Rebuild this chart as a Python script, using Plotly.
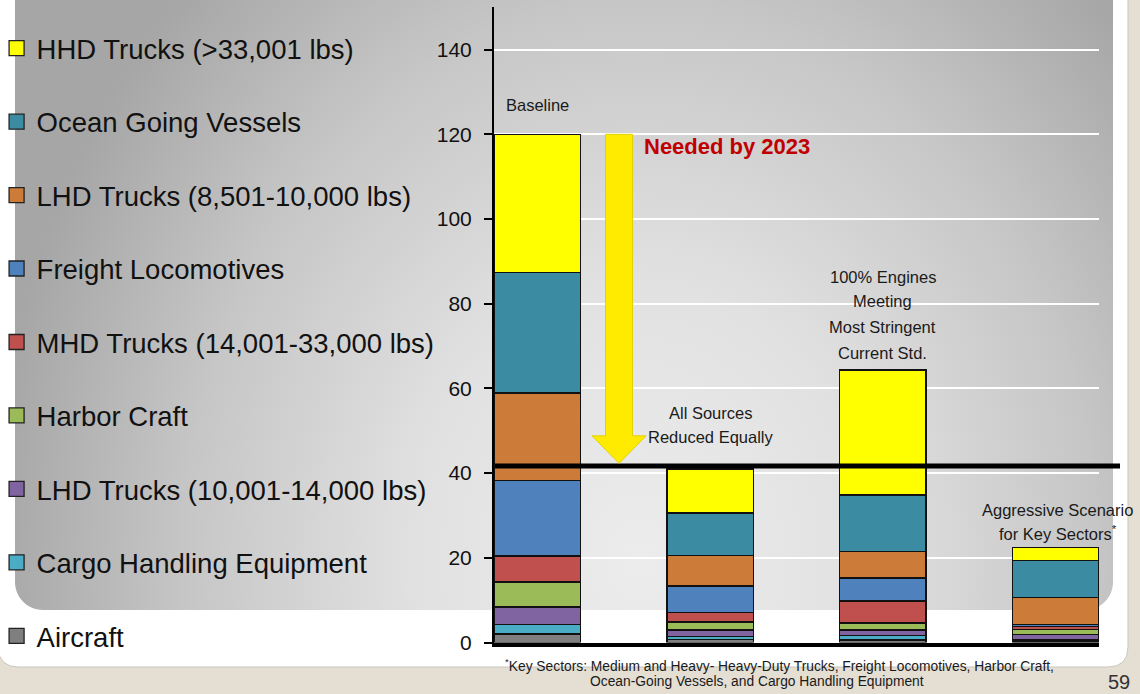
import math
import plotly.graph_objects as go

W, H = 1140, 694

# Scenario categories (bars, left to right)
scenarios = [
    "Baseline",
    "All Sources Reduced Equally",
    "100% Engines Meeting Most Stringent Current Std.",
    "Aggressive Scenario for Key Sectors",
]

# Emission sources, stacked bottom to top
aircraft = [2.0, 0.7, 0.6, 0.35]
cargo_handling = [2.2, 0.75, 1.1, 0.4]
lhd_10001_14000 = [4.2, 1.45, 1.25, 1.15]
harbor_craft = [5.9, 2.0, 1.6, 1.2]
mhd_trucks = [6.1, 2.2, 5.2, 0.7]
freight_locos = [17.8, 6.2, 5.45, 0.5]
lhd_8501_10000 = [20.7, 7.3, 6.25, 6.3]
ocean_vessels = [28.5, 10.0, 13.35, 8.8]
hhd_trucks = [32.6, 10.4, 29.5, 3.0]

source_names = [
    "Aircraft",
    "Cargo Handling Equipment",
    "LHD Trucks (10,001-14,000 lbs)",
    "Harbor Craft",
    "MHD Trucks (14,001-33,000 lbs)",
    "Freight Locomotives",
    "LHD Trucks (8,501-10,000 lbs)",
    "Ocean Going Vessels",
    "HHD Trucks (>33,001 lbs)",
]
source_values = [
    aircraft, cargo_handling, lhd_10001_14000, harbor_craft, mhd_trucks,
    freight_locos, lhd_8501_10000, ocean_vessels, hhd_trucks,
]
source_colors = [
    "#7F7F7F", "#4BACC6", "#8064A2", "#9BBB59", "#C0504D",
    "#4F81BD", "#CD7B39", "#3B8CA3", "#FFFF00",
]

# Scenario captions above the bars, one entry per text line
scenario_captions = [
    ["Baseline"],
    ["All Sources", "Reduced Equally"],
    ["100% Engines", "Meeting", "Most Stringent", "Current Std."],
    ["Aggressive Scenario", "for Key Sectors<sup>*</sup>"],
]
# y of each caption line (axis units)
caption_levels = [
    [126.9],
    [54.2, 48.5],
    [86.3, 80.6, 74.5, 68.4],
    [31.3, 25.9],
]

# Attainment target level
target_level = 41.7

y_ticks = [0, 20, 40, 60, 80, 100, 120, 140]

FONT = "Liberation Sans, Arial, sans-serif"
TEXT = "#1a1a1a"

# Pixel geometry of the page furniture
plot_left, plot_right = 494, 1099
plot_top, plot_bottom = 7.3, 642.5


def px(x):
    return x / W


def py(y):
    return 1 - y / H


def rounded_bottom_panel(x0, y0, x1, y1, r, n=14):
    pts = [(x0, y0), (x0, y1 - r)]
    for i in range(1, n + 1):
        a = math.pi - (math.pi / 2) * i / n
        pts.append((x0 + r + r * math.cos(a), y1 - r + r * math.sin(a)))
    pts.append((x1 - r, y1))
    for i in range(1, n + 1):
        a = math.pi / 2 - (math.pi / 2) * i / n
        pts.append((x1 - r + r * math.cos(a), y1 - r + r * math.sin(a)))
    pts.append((x1, y0))
    return pts


fig = go.Figure()

# Grey gradient panel (background subplot in pixel coordinates).
# Zero-width spurs stretch the bounding box so the radial gradient
# is centred near the bottom middle of the panel.
gx0, gy0, gx1, gy1, gr = 15, -40, 1113, 610, 28
cx, cy, rx, ry = 640, 560, 650, 800
panel = rounded_bottom_panel(gx0, gy0, gx1, gy1, gr)
pts = []
for i, p in enumerate(panel):
    pts.append(p)
    if i == 0:
        pts += [(cx, gy0), (cx, cy - ry), (cx, gy0), (gx0, gy0),
                (gx0, cy), (cx - rx, cy), (gx0, cy)]
    if abs(p[1] - gy1) < 1e-6 and abs(p[0] - (gx0 + gr)) < 1e-6:
        pts += [(cx, gy1), (cx, cy + ry), (cx, gy1)]
pts += [(gx1, cy), (cx + rx, cy), (gx1, cy), (gx1, gy0)]

fig.add_trace(go.Scatter(
    x=[p[0] for p in pts], y=[p[1] for p in pts],
    mode="none", fill="toself",
    fillgradient=dict(
        type="radial",
        colorscale=[[0, "#ececec"], [0.35, "#e1e1e1"], [0.7, "#c6c6c6"], [1, "#a6a6a6"]],
    ),
    hoverinfo="skip", showlegend=False, xaxis="x", yaxis="y",
))

# Stacked emission bars; each legend entry is a larger square key in
# the same legend group, listed with the top of the stack first
n_src = len(source_names)
for i, (name, vals, col) in enumerate(zip(source_names, source_values, source_colors)):
    fig.add_trace(go.Bar(
        x=scenarios, y=vals, name=name, legendgroup=name, showlegend=False,
        marker=dict(color=col, line=dict(color="#111111", width=1.5)),
        xaxis="x2", yaxis="y2",
    ))
    fig.add_trace(go.Scatter(
        x=[None], y=[None], name=name, legendgroup=name, legendrank=n_src - i,
        mode="markers",
        marker=dict(symbol="square", size=15, color=col,
                    line=dict(color="#222222", width=1.3)),
        xaxis="x2", yaxis="y2", hoverinfo="skip",
    ))

baseline_total = sum(v[0] for v in source_values)

shapes = [
    # white slide panel on the page background
    dict(type="path", xref="paper", yref="paper", layer="below",
         path=(f"M {px(-30)},{py(-30)} L {px(1108)},{py(-30)} "
               f"Q {px(1128)},{py(-30)} {px(1128)},{py(-10)} "
               f"L {px(1128)},{py(647)} Q {px(1128)},{py(667)} {px(1108)},{py(667)} "
               f"L {px(18)},{py(667)} Q {px(0)},{py(667)} {px(-2)},{py(649)} "
               f"L {px(-30)},{py(649)} Z"),
         fillcolor="#FFFFFF", line=dict(color="#C9C5BE", width=1)),
    # target level line
    dict(type="line", xref="paper", yref="y2", x0=px(495), x1=px(1120),
         y0=target_level, y1=target_level, line=dict(color="#000000", width=5),
         layer="above"),
]

# Downward arrow from the baseline total to the target level
ax_c = px(619)
sh, hh = 13.5 / W, 27 / W
head_start = target_level + 7.1
tip = target_level + 0.6
shapes.append(dict(
    type="path", xref="paper", yref="y2", layer="above",
    path=(f"M {ax_c - sh},{baseline_total} L {ax_c + sh},{baseline_total} "
          f"L {ax_c + sh},{head_start} L {ax_c + hh},{head_start} "
          f"L {ax_c},{tip} L {ax_c - hh},{head_start} L {ax_c - sh},{head_start} Z"),
    fillcolor="#FFEB00", line=dict(color="#E3D000", width=1),
))

annotations = []
for scen, lines, levels in zip(scenarios, scenario_captions, caption_levels):
    shift = 2 if scen == scenarios[3] else 0
    for line, lev in zip(lines, levels):
        annotations.append(dict(
            x=scen, y=lev, text=line, xref="x2", yref="y2", xshift=shift,
            showarrow=False, yanchor="middle", xanchor="center",
            font=dict(family=FONT, size=16.5, color=TEXT),
        ))

annotations += [
    dict(xref="paper", yref="paper", x=px(642), y=py(146), xanchor="left", yanchor="middle",
         text="<b>Needed by 2023</b>", showarrow=False,
         font=dict(family=FONT, size=22, color="#C00000")),
    dict(xref="paper", yref="paper", x=px(779), y=py(665), xanchor="center", yanchor="middle",
         text="<sup>*</sup>Key Sectors: Medium and Heavy- Heavy-Duty Trucks, Freight Locomotives, Harbor Craft,",
         showarrow=False, font=dict(family=FONT, size=13.8, color=TEXT)),
    dict(xref="paper", yref="paper", x=px(757), y=py(681), xanchor="center", yanchor="middle",
         text="Ocean-Going Vessels, and Cargo Handling Equipment",
         showarrow=False, font=dict(family=FONT, size=13.8, color=TEXT)),
    dict(xref="paper", yref="paper", x=px(1119), y=py(682), xanchor="center", yanchor="middle",
         text="59", showarrow=False, font=dict(family=FONT, size=20, color="#333333")),
]

fig.update_layout(
    width=W, height=H,
    margin=dict(l=0, r=0, t=0, b=0, pad=0, autoexpand=False),
    paper_bgcolor="#E4DED3",
    plot_bgcolor="rgba(0,0,0,0)",
    barmode="stack", bargap=0.5,
    showlegend=True,
    legend=dict(
        x=-0.003, xanchor="left", y=py(23.8), yanchor="top",
        bgcolor="rgba(0,0,0,0)", borderwidth=0,
        font=dict(family=FONT, size=27.5, color="#111111"),
        traceorder="grouped", tracegroupgap=34.7,
    ),
    xaxis=dict(domain=[0, 1], range=[0, W], visible=False, fixedrange=True, automargin=False),
    yaxis=dict(domain=[0, 1], range=[H, 0], visible=False, fixedrange=True, automargin=False),
    xaxis2=dict(
        domain=[px(plot_left), px(plot_right)], anchor="y2",
        range=[-0.25, 3.25], showticklabels=False, ticks="",
        showgrid=False, showline=True, linecolor="#000000", linewidth=3.5,
        zeroline=False, automargin=False,
    ),
    yaxis2=dict(
        domain=[py(plot_bottom), py(plot_top)], anchor="x2",
        range=[0, 150], tickvals=y_ticks,
        showgrid=True, gridcolor="#FFFFFF", gridwidth=1.5,
        showline=True, linecolor="#000000", linewidth=2,
        ticks="outside", ticklen=8, tickwidth=1.5, tickcolor="#000000",
        ticklabelstandoff=8,
        tickfont=dict(family=FONT, size=21, color="#111111"),
        zeroline=False, automargin=False,
    ),
    shapes=shapes,
    annotations=annotations,
)

fig.write_html("out.html")
